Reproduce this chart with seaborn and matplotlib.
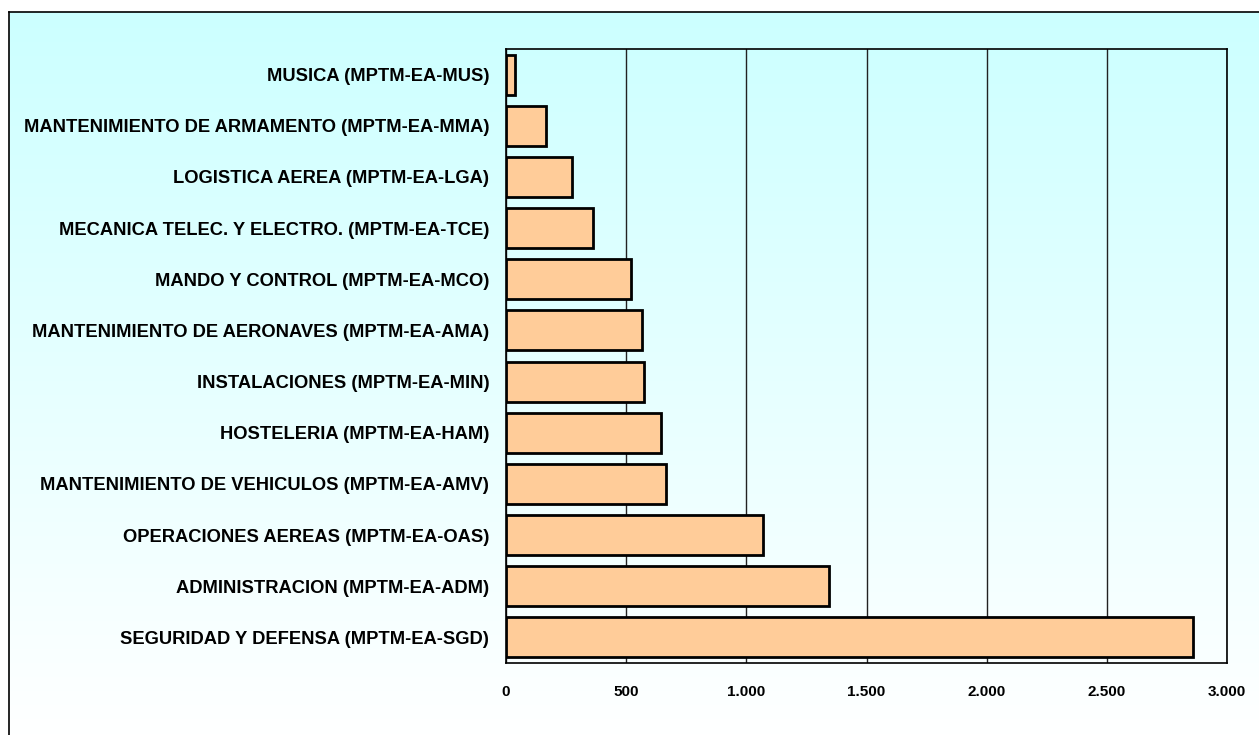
import numpy as np
import pandas as pd
import matplotlib.pyplot as plt
import seaborn as sns
from matplotlib.ticker import FuncFormatter, MultipleLocator
from matplotlib.colors import LinearSegmentedColormap

# datos
categorias = [
    "MUSICA (MPTM-EA-MUS)",
    "MANTENIMIENTO DE ARMAMENTO (MPTM-EA-MMA)",
    "LOGISTICA AEREA (MPTM-EA-LGA)",
    "MECANICA TELEC. Y ELECTRO. (MPTM-EA-TCE)",
    "MANDO Y CONTROL (MPTM-EA-MCO)",
    "MANTENIMIENTO DE AERONAVES (MPTM-EA-AMA)",
    "INSTALACIONES (MPTM-EA-MIN)",
    "HOSTELERIA (MPTM-EA-HAM)",
    "MANTENIMIENTO DE VEHICULOS (MPTM-EA-AMV)",
    "OPERACIONES AEREAS (MPTM-EA-OAS)",
    "ADMINISTRACION (MPTM-EA-ADM)",
    "SEGURIDAD Y DEFENSA (MPTM-EA-SGD)",
]
valores = [37, 165, 275, 363, 520, 565, 573, 645, 664, 1071, 1345, 2860]

df = pd.DataFrame({"Especialidad": categorias, "Total": valores})

sns.set_style("white")
plt.rcParams["font.family"] = ["Liberation Sans", "DejaVu Sans"]
plt.rcParams["text.color"] = "black"
plt.rcParams["xtick.color"] = "black"
plt.rcParams["ytick.color"] = "black"

W, H = 1259, 735
fig = plt.figure(figsize=(W / 100, H / 100), dpi=100)
fig.patch.set_facecolor("white")

# fondo degradado
bg = fig.add_axes([9 / W, 0, 1 - 9 / W, 1 - 12 / H], zorder=0)
grad = np.linspace(0, 1, 256).reshape(-1, 1)
cmap = LinearSegmentedColormap.from_list("fondo", ["#CCFFFF", "#FFFFFF"])
bg.imshow(grad, aspect="auto", cmap=cmap, extent=[0, 1, 0, 1], origin="upper")
bg.set_xticks([])
bg.set_yticks([])
for side in ["right", "bottom"]:
    bg.spines[side].set_visible(False)
for side in ["left", "top"]:
    bg.spines[side].set_linewidth(1.2)
    bg.spines[side].set_color("black")

ax = fig.add_axes([506 / W, 1 - 663 / H, (1227 - 506) / W, (663 - 49) / H], zorder=1)
ax.set_facecolor("none")

sns.barplot(data=df, x="Total", y="Especialidad", orient="h", color="#FFCC99",
            edgecolor="black", linewidth=2, width=0.78, saturation=1, ax=ax)

ax.set_xlim(0, 3000)
ax.xaxis.set_major_locator(MultipleLocator(500))
ax.xaxis.set_major_formatter(FuncFormatter(lambda v, p: f"{int(v):,}".replace(",", ".")))
ax.grid(axis="x", color="#222222", linewidth=1)
ax.set_axisbelow(True)
ax.set_xlabel("")
ax.set_ylabel("")

for side in ax.spines:
    ax.spines[side].set_visible(True)
    ax.spines[side].set_color("black")
    ax.spines[side].set_linewidth(1.2)

ax.tick_params(axis="x", direction="out", length=5, width=1, color="black",
               labelcolor="black", labelsize=11, pad=11)
ax.tick_params(axis="y", length=0, labelcolor="black", labelsize=13.2, pad=12)
for lbl in ax.get_xticklabels() + ax.get_yticklabels():
    lbl.set_fontweight("bold")

fig.savefig("out.png", dpi=100)
